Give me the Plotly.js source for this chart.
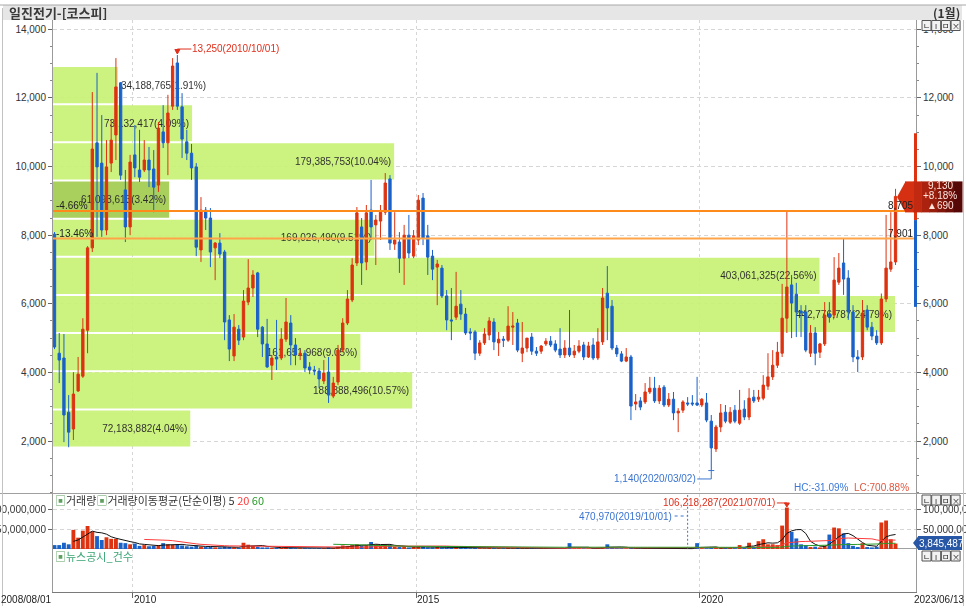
<!DOCTYPE html>
<html><head><meta charset="utf-8">
<script src="https://cdn.plot.ly/plotly-3.0.1.min.js"></script>
<style>html,body{margin:0;padding:0;background:#fff;}#chart{width:966px;height:609px;}</style>
</head><body><div id="chart"></div>
<script>
// ---------------- DATA ----------------
const startYear = 2008, startMonth = 8, monthCount = 179;
const months = [];
for (let y = startYear, m = startMonth; months.length < monthCount;) {
  months.push(y + '/' + String(m).padStart(2, '0'));
  m++; if (m > 12) { m = 1; y++; }
}
const openP = [8030,4560,4420,2840,2350,3460,3890,5230,7630,10690,
10100,8150,10100,10920,12440,9320,8240,10340,9900,9900,
10190,9930,9460,11010,10690,11760,13020,11740,10720,10390,
9990,7570,8730,8500,7630,7770,7510,5530,4480,5260,
5030,6050,6460,6900,5320,4830,4210,4450,4420,4970,
5440,4800,4510,4560,4160,4070,4040,3750,4010,3310,
3720,4650,5440,6110,7190,8240,7220,8730,8300,8410,
8670,9640,7740,7800,7330,8000,7390,7860,9080,7980,
7390,7070,7040,6230,5530,5610,5990,5700,5180,5180,
4560,4860,5090,5470,4860,4970,4940,5320,5440,4560,
4710,5030,4620,4620,4830,4910,4830,4680,4510,4710,
4510,4620,4800,4450,4800,4420,4890,6310,5930,4710,
4540,4330,4450,3080,3170,3140,3430,3540,3170,3570,
3050,3220,2820,2900,3110,3110,3110,3050,3110,2580,
1770,2410,2840,2550,2900,2520,2930,2700,3280,3220,
3250,3600,3870,4210,4560,5580,6550,6280,5790,5760,
4560,5150,4590,4830,5700,5670,6630,7190,6750,5760,
4450,4450,5820,5320,5060,4860,6140,7010,7220];
const highP = [8090,5150,5120,3340,4010,4450,5580,7680,12170,12730,
11500,10770,11360,13160,12460,9900,10340,11210,11070,10770,
10570,10480,11300,11790,12090,13160,13250,12140,11070,10660,
10100,9110,8820,8790,7800,8060,7570,5670,5700,5380,
6400,7300,6980,6930,5350,5560,4510,5530,5290,6170,
5670,5000,4650,4650,4300,4190,4130,4360,4450,3870,
4800,5580,6400,7330,8820,8500,8880,9610,8590,8880,
9810,9750,8670,8090,8300,8590,8150,9170,9230,8300,
7570,7280,7130,6400,6460,6930,6400,5880,5290,5230,
4940,5290,5610,5580,5180,5060,5930,5760,5560,5470,
4940,5150,4740,4800,5000,5060,4940,5290,4940,5820,
4800,4940,4890,4890,5000,5290,6460,7100,6110,4800,
4620,4710,4510,3370,3280,3690,3870,3870,3630,3630,
3400,3430,2960,3190,3280,3340,3870,3250,3400,2760,
2470,3080,3050,2990,3050,3490,3190,3540,3490,3490,
3920,4560,4650,4890,6580,8705,6840,6610,5960,5960,
5380,5320,4860,6050,6050,7360,7480,7901,6980,5960,
4650,6110,5960,5470,5230,6300,8590,8670,9350];
const lowP = [4680,3690,1970,1820,2030,3430,3840,4560,7510,7950,
7950,8000,9840,10190,9610,7800,8000,9690,9550,9840,
9400,8670,9260,10540,9750,11650,11650,10250,10190,9610,
7390,7220,8150,7070,6690,7330,4940,4330,4330,4800,
4940,5960,6200,5030,4450,4130,3780,4070,4360,4890,
4210,4210,4360,4010,3950,3920,3540,3660,3110,3250,
3630,4590,5380,6050,7100,6550,6980,7860,7130,7860,
8590,7570,7570,6900,6550,7330,7330,7710,7710,6840,
6690,5960,6170,5230,4940,5530,5530,5090,4940,4360,
4480,4800,4940,4650,4480,4740,4890,4800,4590,4300,
4590,4510,4480,4540,4770,4740,4590,4420,4420,4450,
4420,4560,4360,4420,4360,4360,4800,4940,4650,4450,
4300,4300,2610,2900,2900,3080,3370,3110,3080,2990,
2990,2610,2260,2820,3020,3020,3020,2990,2550,1140,
1680,2260,2520,2500,2520,2470,2610,2610,3110,3140,
3190,3490,3780,4130,4450,5150,5000,5030,5030,4590,
4450,4210,4420,4770,5450,5580,6550,6260,5530,4300,
4010,4360,5230,4940,4800,4800,6050,6930,7130];
const closeP = [4740,4360,2760,2260,3370,3950,5260,7630,10510,9990,
8150,9990,10770,12320,9750,8240,10130,9960,9690,10190,
9900,9400,11120,10690,11560,12930,11760,10800,10390,9960,
7650,8730,8500,7510,7770,7450,5470,4680,5320,4940,
6080,6460,6840,5260,4830,4160,4420,4390,4970,5470,
4800,4510,4560,4130,4070,4040,3810,3980,3340,3690,
4650,5440,6140,7130,8650,7190,8650,8240,8440,8670,
9520,7770,7860,7330,8000,7480,7980,9020,7920,7360,
7010,7160,6230,5530,5500,5930,5700,5150,5150,4560,
4860,5120,5500,4890,4970,4940,5350,5350,4650,4710,
5000,4620,4560,4770,4910,4800,4650,4510,4710,4510,
4620,4770,4450,4770,4420,4890,6170,5880,4710,4540,
4330,4450,3020,3140,2990,3430,3540,3170,3540,3050,
3220,2820,2870,3140,3080,3080,3050,3220,2610,1800,
2410,2820,2580,2840,2580,2900,2700,3250,3170,3280,
3630,3870,4210,4590,5580,6490,6020,5760,5730,4650,
5150,4560,4830,5670,5620,6690,7040,6720,5760,4450,
4390,5730,5320,5060,4860,6140,7040,7220,9130];
// monthly volume, millions of shares
const volumeM = [10,10,16,12,49,29,47,59,45,33,
23,30,26,26,16,15,12,14,8,10,
7,8,10,15,12,11,12,9,7,6,
9,6,5,6,4,4,6,5,4,3,
16,11,8,6,4,4,3,3,3,4,
3,2,2,2,2,1.5,2,2,4,3,
6,9,8,10,12,9,10,18,12,8,
11,10,6,5,6,4,5,7,6,4,
4,5,4,4,3,4,3,3,2,3,
2,2,3,2,2,1.5,3,2,3,2,
2,2,1.5,1.5,1.5,1.5,1.5,2,2,15,
2,2,1.5,1.5,1.5,3,5,12,5,2,
2,1.5,3,1.5,1.2,2,1.5,1.5,1.5,1.2,
1,1.2,1,1,0.47097,1,15,2,2,4,
3,3,2,3,2,10,4,16,6,20,
25,12,12,10,60,106.218287,44,27,12,10,
5,6,4,8,37,55,53,40,15,8,
5,15,5,4,6,68,73,25,14];
// volume profile (price bands)
const profileLevels = [2366,3478,4590,5702,6814,7926,9038,10150,11262,12374];
const profileStep = 1112;
const profileVolume = [72183882,188888496,161651968,442776787,403061325,169026490,61093613,179385753,73132417,34188765];
const profilePct = [4.04,10.57,9.05,24.79,22.56,9.51,3.42,10.04,4.09,1.91];
const currentPrice = 9130, priceChange = 690, changePct = 8.18;
const prevClose = 8440, upperLimit = 10970, lowerLimit = 5910;
const resistLevels = [8705, 7901];
const resistPctLabels = ['-4.66%', '-13.46%'];
const periodHigh = 13250, periodHighDate = '2010/10/01';
const periodLow = 1140, periodLowDate = '2020/03/02';
const volMaxValue = 106218287, volMaxDate = '2021/07/01';
const volMinValue = 470970, volMinDate = '2019/10/01';
const lastVolume = 3845487;
const priceTicks = [2000,4000,6000,8000,10000,12000,14000];
const volTicks = [50000000, 100000000];
const gridMonths = ['2010/01','2015/01','2020/01'];
const gridLabels = ['2010','2015','2020'];
const firstDateLabel = '2008/08/01', lastDateLabel = '2023/06/13';
const maPeriods = [5, 20, 60];

// ---------------- STYLE / GEOMETRY ----------------
const FONT = '"Liberation Sans", Arial, sans-serif';
const KFONT = '"Noto Sans CJK KR", "Noto Sans", sans-serif';
const RED = '#dd3311', BLUE = '#1a62c8';
const W = 966, H = 609, PL = 53, PR = 916, PT = 20, PB = 592;
const pxX = p => (p - PL) / (PR - PL);
const pxY = p => (PB - p) / (PB - PT);
const priceRange = [486, 14271];
const priceTop = 20, priceBot = 493;
const ppx = (priceRange[1] - priceRange[0]) / (priceBot - priceTop);
const xRange = [-0.317, 182.33];
const ipx = (xRange[1] - xRange[0]) / (PR - PL);
const volRange = [-110.3e6, 141e6];
const vpx = (volRange[1] - volRange[0]) / (PB - 494);
const profileMaxFrac = 842 / 863;

const idx = months.map((m, i) => i);
const up = closeP.map((c, i) => c >= openP[i]);
const vol = volumeM.map(v => v * 1e6);
const gridPos = gridMonths.map(m => months.indexOf(m) - 0.39);
function sma(a, n) { return a.map((v, i) => i < n - 1 ? null : a.slice(i - n + 1, i + 1).reduce((s, x) => s + x, 0) / n); }
const fmt = v => v.toLocaleString('en-US');

const traces = [];
const curBand = profileLevels.findIndex(l => currentPrice >= l - profileStep / 2 && currentPrice < l + profileStep / 2);
const tf = {family: FONT, size: 10, color: '#1e1e1e'};
traces.push({
  type: 'bar', orientation: 'h', x: profileVolume, y: profileLevels, width: profileStep * 0.948,
  xaxis: 'x', yaxis: 'y',
  marker: {color: profileLevels.map((l, k) => k === curBand ? '#a3cd50' : '#c9f276'), line: {width: 0}},
  opacity: 0.93,
  text: profileVolume.map((v, k) => fmt(v) + '(' + profilePct[k].toFixed(2) + '%)'),
  textposition: 'auto', insidetextanchor: 'end', textangle: 0, constraintext: 'none',
  textfont: tf, insidetextfont: tf, outsidetextfont: tf, hoverinfo: 'skip'
});
traces.push({
  type: 'candlestick', x: idx, open: openP, high: highP, low: lowP, close: closeP,
  xaxis: 'x2', yaxis: 'y', whiskerwidth: 0,
  increasing: {line: {color: RED, width: 1}, fillcolor: RED},
  decreasing: {line: {color: BLUE, width: 1}, fillcolor: BLUE},
  hoverinfo: 'skip'
});
traces.push({type: 'scatter', x: [], y: [], xaxis: 'x2', yaxis: 'y3', hoverinfo: 'skip'});
traces.push({
  type: 'bar', x: idx, y: vol, width: 0.82, xaxis: 'x3', yaxis: 'y2',
  marker: {color: up.map(u => u ? RED : BLUE), line: {width: 0}}, hoverinfo: 'skip'
});
const maColors = ['#111111', '#ff3b3b', '#2a9a2a'];
maPeriods.forEach((n, k) => traces.push({
  type: 'scatter', mode: 'lines', x: idx, y: sma(vol, n), xaxis: 'x3', yaxis: 'y2',
  line: {color: maColors[k], width: 1}, hoverinfo: 'skip'
}));
traces.push({type: 'scatter', x: [], y: [], xaxis: 'x3', yaxis: 'y4', hoverinfo: 'skip'});

// ---------------- SHAPES ----------------
const shapes = [];
const P = (o) => shapes.push(Object.assign({xref: 'paper', yref: 'paper'}, o));
P({type: 'rect', x0: pxX(3), x1: pxX(962), y0: pxY(20), y1: pxY(5), fillcolor: '#e6e6e6', line: {width: 0}, layer: 'below'});
P({type: 'line', x0: pxX(0), x1: pxX(966), y0: pxY(5), y1: pxY(5), line: {color: '#a8a8a8', width: 1}});
P({type: 'line', x0: pxX(0), x1: pxX(966), y0: pxY(493.5), y1: pxY(493.5), line: {color: '#a0a0a0', width: 1}});
P({type: 'line', x0: pxX(2.5), x1: pxX(2.5), y0: pxY(8), y1: pxY(606), line: {color: '#c2c2c2', width: 1}});
P({type: 'line', x0: pxX(963.5), x1: pxX(963.5), y0: pxY(20), y1: pxY(606), line: {color: '#c2c2c2', width: 1}});
resistLevels.forEach((lv, k) => shapes.push({type: 'line', xref: 'paper', yref: 'y', x0: 0, x1: 1, y0: lv, y1: lv,
  line: {color: k === 0 ? '#ff8a1c' : '#ffa448', width: 2}}));
shapes.push({type: 'line', xref: 'paper', yref: 'y', x0: pxX(915.5), x1: pxX(915.5), y0: prevClose, y1: upperLimit, line: {color: RED, width: 3}});
shapes.push({type: 'line', xref: 'paper', yref: 'y', x0: pxX(915.5), x1: pxX(915.5), y0: lowerLimit, y1: prevClose, line: {color: BLUE, width: 3}});
const bY0 = currentPrice - 16 * ppx, bY1 = currentPrice + 15 * ppx;
const c0 = [214, 48, 18], c1 = [86, 8, 6], nS = 7;
for (let s = 0; s < nS; s++) {
  const t = s / (nS - 1);
  const c = c0.map((v, j) => Math.round(v + (c1[j] - v) * t));
  const xa = 905 + s * (57 / nS), xb = 905 + (s + 1) * (57 / nS) + 0.5;
  shapes.push({type: 'rect', xref: 'paper', yref: 'y', x0: pxX(xa), x1: pxX(xb), y0: bY0, y1: bY1,
    fillcolor: 'rgb(' + c.join(',') + ')', line: {width: 0}});
}
shapes.push({type: 'path', xref: 'paper', yref: 'y', path: `M ${pxX(897)},${currentPrice - 0.5 * ppx} L ${pxX(905.5)},${bY1} L ${pxX(905.5)},${bY0} Z`,
  fillcolor: 'rgb(214,48,18)', line: {width: 0}});
P({type: 'rect', x0: pxX(918), x1: pxX(962), y0: pxY(550), y1: pxY(536), fillcolor: '#2857a6', line: {width: 0}});
P({type: 'path', path: `M ${pxX(913)},${pxY(543)} L ${pxX(918.5)},${pxY(536)} L ${pxX(918.5)},${pxY(550)} Z`, fillcolor: '#2857a6', line: {width: 0}});
const hiIdx = highP.indexOf(periodHigh);
const hiRed = '#e0301c';
shapes.push({type: 'line', xref: 'x2', yref: 'y', x0: hiIdx, x1: hiIdx + 14 * ipx, y0: periodHigh + 6 * ppx, y1: periodHigh + 6 * ppx, line: {color: hiRed, width: 1}});
shapes.push({type: 'path', xref: 'x2', yref: 'y', path: `M ${hiIdx - 2.5 * ipx},${periodHigh + 5.5 * ppx} L ${hiIdx + 2.5 * ipx},${periodHigh + 5.5 * ppx} L ${hiIdx},${periodHigh + 1 * ppx} Z`, fillcolor: hiRed, line: {color: hiRed, width: 1}});
const loIdx = lowP.indexOf(periodLow);
const loBlue = '#3a74d0';
const loY = periodLow - 8.4 * ppx;
shapes.push({type: 'line', xref: 'x2', yref: 'y', x0: loIdx - 14 * ipx, x1: loIdx, y0: loY, y1: loY, line: {color: loBlue, width: 1}});
shapes.push({type: 'line', xref: 'x2', yref: 'y', x0: loIdx, x1: loIdx, y0: loY, y1: periodLow, line: {color: loBlue, width: 1}});
shapes.push({type: 'line', xref: 'x2', yref: 'y', x0: loIdx - 3 * ipx, x1: loIdx + 3 * ipx, y0: periodLow, y1: periodLow, line: {color: loBlue, width: 1}});
const vMaxIdx = vol.indexOf(Math.max(...vol));
const vmY = volMaxValue + 4.6 * vpx;
shapes.push({type: 'line', xref: 'x3', yref: 'y2', x0: vMaxIdx - 10 * ipx, x1: vMaxIdx, y0: vmY, y1: vmY, line: {color: hiRed, width: 1}});
shapes.push({type: 'path', xref: 'x3', yref: 'y2', path: `M ${vMaxIdx - 2.5 * ipx},${vmY} L ${vMaxIdx + 2.5 * ipx},${vmY} L ${vMaxIdx},${volMaxValue + 0.5 * vpx} Z`, fillcolor: hiRed, line: {color: hiRed, width: 1}});
const vMinIdx = vol.indexOf(Math.min(...vol));
const vnY = volMinValue + 32.8 * vpx;
shapes.push({type: 'line', xref: 'x3', yref: 'y2', x0: vMinIdx - 13 * ipx, x1: vMinIdx, y0: vnY, y1: vnY, line: {color: loBlue, width: 1, dash: '3px,3px'}});
shapes.push({type: 'line', xref: 'x3', yref: 'y2', x0: vMinIdx, x1: vMinIdx, y0: volMinValue, y1: volRange[1] - 1 * vpx, line: {color: loBlue, width: 1, dash: '2px,2px'}});
const btnGlyphs = ['ㄴ', 'ı', 'ㅁ', '×'];
const btnTops = [20.5, 495, 551];
const annotations = [];
btnTops.forEach(top => btnGlyphs.forEach((g, k) => {
  const x0 = 922 + k * 9.7;
  P({type: 'rect', x0: pxX(x0), x1: pxX(x0 + 9), y0: pxY(top + 10), y1: pxY(top), fillcolor: '#f2f2f2', line: {color: '#555', width: 1}});
  annotations.push({text: g, xref: 'paper', yref: 'paper', x: pxX(x0 + 4.5), y: pxY(top + 5), showarrow: false,
    font: {family: KFONT, size: 8, color: '#222'}, xanchor: 'center', yanchor: 'middle'});
}));

// ---------------- ANNOTATIONS ----------------
const A = o => annotations.push(Object.assign({showarrow: false, xanchor: 'left', yanchor: 'middle',
  font: {family: FONT, size: 10, color: '#222'}}, o));
A({text: '일진전기-[코스피]', xref: 'paper', yref: 'paper', x: pxX(7), y: pxY(12.5), font: {family: KFONT, size: 13, color: '#3a3a3a', weight: 'bold'}});
A({text: '(1월)', xref: 'paper', yref: 'paper', x: pxX(962), y: pxY(12.5), xanchor: 'right', font: {family: KFONT, size: 12, color: '#333', weight: 'bold'}});
resistLevels.forEach((lv, k) => {
  A({text: resistPctLabels[k], xref: 'paper', yref: 'y', x: pxX(54), y: lv, yanchor: 'bottom', yshift: -2});
  A({text: fmt(lv), xref: 'paper', yref: 'y', x: 1, y: lv, xanchor: 'right', yanchor: 'bottom', yshift: -2, xshift: -1});
});
A({text: fmt(periodHigh) + '(' + periodHighDate + ')', xref: 'x2', yref: 'y', x: hiIdx, y: periodHigh, xshift: 13, yshift: 7, font: {family: FONT, size: 10, color: hiRed}});
A({text: fmt(periodLow) + '(' + periodLowDate + ')', xref: 'x2', yref: 'y', x: loIdx, y: periodLow, xanchor: 'right', xshift: -13, yshift: -8.4, font: {family: FONT, size: 10, color: loBlue}});
const hc = ((currentPrice / periodHigh - 1) * 100).toFixed(2);
const lc = ((currentPrice / periodLow - 1) * 100).toFixed(2);
A({text: 'HC:' + hc + '%', xref: 'paper', yref: 'paper', x: pxX(851), y: pxY(487), xanchor: 'right', font: {family: FONT, size: 10, color: '#3a78d8'}});
A({text: 'LC:' + lc + '%', xref: 'paper', yref: 'paper', x: pxX(911), y: pxY(487), xanchor: 'right', font: {family: FONT, size: 10, color: '#e0563f'}});
const boxTxt = {family: FONT, size: 10, color: '#ffe4dc'};
A({text: fmt(currentPrice), xref: 'paper', yref: 'y', x: pxX(940), y: currentPrice, xanchor: 'center', yshift: 10.5, font: boxTxt});
A({text: '+' + changePct.toFixed(2) + '%', xref: 'paper', yref: 'y', x: pxX(940), y: currentPrice, xanchor: 'center', yshift: 0.5, font: boxTxt});
A({text: '▲' + priceChange, xref: 'paper', yref: 'y', x: pxX(940), y: currentPrice, xanchor: 'center', yshift: -9.5, font: boxTxt});
A({text: fmt(lastVolume), xref: 'paper', yref: 'paper', x: pxX(941), y: pxY(543), xanchor: 'center', font: {family: FONT, size: 10, color: '#ffffff'}});
A({text: fmt(volMaxValue) + '(' + volMaxDate + ')', xref: 'x3', yref: 'y2', x: vMaxIdx, y: volMaxValue, xanchor: 'right', xshift: -10, yshift: 4.6, font: {family: FONT, size: 10, color: hiRed}});
A({text: fmt(volMinValue) + '(' + volMinDate + ')', xref: 'x3', yref: 'y2', x: vMinIdx, y: volMinValue, xanchor: 'right', xshift: -14, yshift: 32.8, font: {family: FONT, size: 10, color: loBlue}});
A({text: '<span style="color:#5f9f5f">▣</span>거래량<span style="color:#5f9f5f">▣</span>거래량이동평균(단순이평) ' + maPeriods[0] +
  ' <span style="color:#ff3b3b">' + maPeriods[1] + '</span> <span style="color:#2a9a2a">' + maPeriods[2] + '</span>',
  xref: 'paper', yref: 'paper', x: pxX(53), y: pxY(500), font: {family: KFONT, size: 11, color: '#333'}});
A({text: '<span style="color:#5f9f5f">▣</span>뉴스공시_건수', xref: 'paper', yref: 'paper', x: pxX(53), y: pxY(556), font: {family: KFONT, size: 11, color: '#3aa473'}});
A({text: firstDateLabel, xref: 'paper', yref: 'paper', x: 0, y: pxY(599.5), xanchor: 'right', font: {family: FONT, size: 10, color: '#222'}});
A({text: lastDateLabel, xref: 'paper', yref: 'paper', x: pxX(966), y: pxY(599.5), xanchor: 'right', font: {family: FONT, size: 10, color: '#222'}});
gridPos.forEach((g, k) => A({text: gridLabels[k], xref: 'x3', yref: 'paper', x: g, y: pxY(599.5), xanchor: 'left', xshift: -1, font: {family: FONT, size: 10, color: '#222'}}));

// ---------------- LAYOUT ----------------
const tickFont = {family: FONT, size: 10, color: '#333'};
const gridC = '#d6d6d6', lineC = '#9a9a9a';
const priceAxis = {range: priceRange, tickmode: 'array', tickvals: priceTicks, tickformat: ',d', ticks: 'outside', ticklen: 4,
  tickcolor: '#666', tickfont: tickFont, zeroline: false, showline: true, linecolor: lineC, fixedrange: true,
  minor: {tickmode: 'linear', tick0: 0, dtick: 500, ticks: 'outside', ticklen: 2, tickcolor: '#888', showgrid: false}};
const volAxis = {range: volRange, tickmode: 'array', tickvals: volTicks, tickformat: ',d', ticks: 'outside', ticklen: 4,
  tickcolor: '#666', tickfont: tickFont, showline: true, linecolor: lineC, fixedrange: true};
const layout = {
  width: W, height: H, margin: {l: PL, r: W - PR, t: PT, b: H - PB, pad: 0},
  paper_bgcolor: '#ffffff', plot_bgcolor: '#ffffff', showlegend: false, hovermode: false, dragmode: false,
  xaxis: {domain: [0, 1], anchor: 'y', range: [0, Math.max(...profileVolume) / profileMaxFrac], visible: false, fixedrange: true},
  xaxis2: {overlaying: 'x', anchor: 'y', range: xRange, tickmode: 'array', tickvals: gridPos, showticklabels: false, ticks: '',
    showgrid: true, gridcolor: gridC, griddash: '3px,3px', showline: true, linecolor: lineC, zeroline: false,
    rangeslider: {visible: false}, fixedrange: true},
  yaxis: Object.assign({domain: [pxY(priceBot), 1], anchor: 'x', showgrid: true, gridcolor: gridC, griddash: '4px,3px'}, priceAxis),
  yaxis3: Object.assign({overlaying: 'y', side: 'right', anchor: 'x2', showgrid: false}, priceAxis),
  xaxis3: {domain: [0, 1], anchor: 'y2', range: xRange, tickmode: 'array', tickvals: gridPos, showticklabels: false,
    ticks: 'outside', ticklen: 5, tickcolor: '#666', showgrid: true, gridcolor: gridC, griddash: '3px,3px',
    showline: true, linecolor: '#7a7a7a', zeroline: false, fixedrange: true},
  yaxis2: Object.assign({domain: [0, pxY(494)], anchor: 'x3', showgrid: true, gridcolor: gridC, griddash: '4px,3px',
    zeroline: true, zerolinecolor: '#a0a0a0', zerolinewidth: 1}, volAxis),
  yaxis4: Object.assign({overlaying: 'y2', side: 'right', anchor: 'x3', showgrid: false, zeroline: false}, volAxis),
  shapes: shapes, annotations: annotations
};
Plotly.newPlot('chart', traces, layout, {staticPlot: true, displayModeBar: false});
</script></body></html>
